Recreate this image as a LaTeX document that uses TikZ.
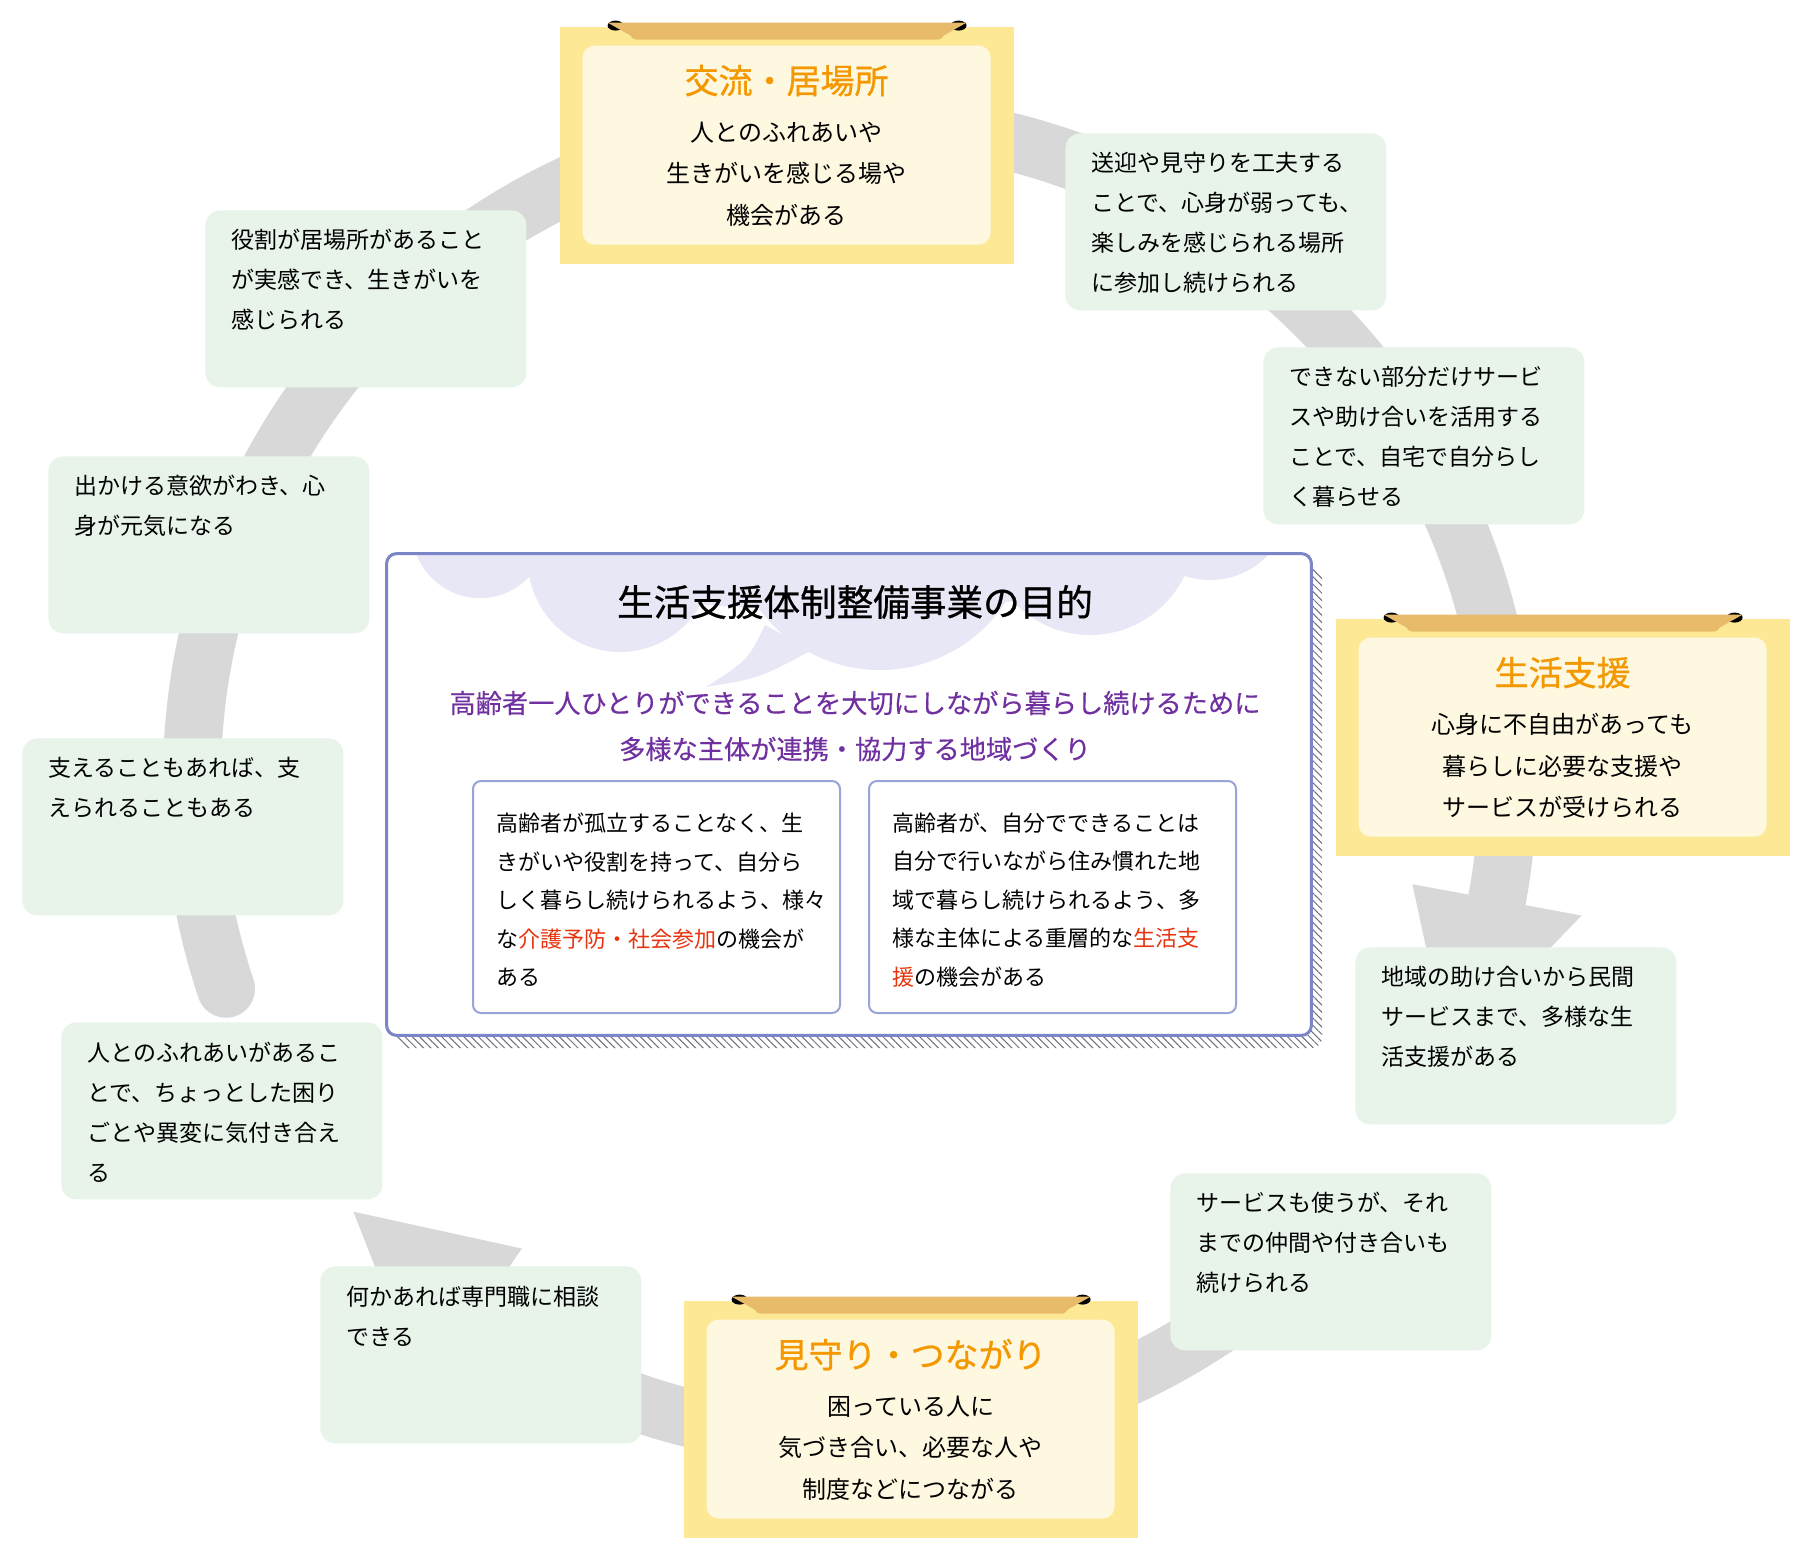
\documentclass[tikz,border=0pt]{standalone}
\usepackage{fontspec}
\setmainfont{Noto Sans CJK JP}
\newfontfamily\medfont{Noto Sans CJK JP}[FakeBold=0.8]
\newfontfamily\semifont{Noto Sans CJK JP}[FakeBold=0.35]
\usetikzlibrary{patterns.meta}
\definecolor{ringc}{HTML}{D8D8D8}
\definecolor{yelO}{HTML}{FDE995}
\definecolor{creamI}{HTML}{FEF8E1}
\definecolor{tabc}{HTML}{E7BB6A}
\definecolor{greenF}{HTML}{E8F4EA}
\definecolor{orangeT}{HTML}{F39800}
\definecolor{purpleT}{HTML}{7030A0}
\definecolor{redT}{HTML}{E8340E}
\definecolor{frameB}{HTML}{7A86C8}
\definecolor{frameS}{HTML}{9AA4D8}
\definecolor{cloudc}{HTML}{E7E7F5}
\definecolor{hatchc}{HTML}{6E6E7E}

\newcommand\mainbox[5]{%
  \node[mainouter] (#1) at (#2,#3) {};
  \begin{scope}[shift={(#1.north west)}]
    \fill[black] (56,-1) ellipse[x radius=4pt, y radius=2.5pt];
    \fill[black] (399,-1) ellipse[x radius=4pt, y radius=2.5pt];
    \fill[tabc] (48,-4) -- (407,-4) -- (384,9) .. controls (381,13) .. (375,13) -- (80,13) .. controls (74,13) .. (71,9) -- cycle;
    \node[maininner] (#1-in) at (227,118.5) {};
    \node[maintitle] (#1-title) at (227,54) {#4};
    \node[mainbody] (#1-body) at (227,147.5) {#5};
  \end{scope}}

\newcommand\greenbox[5]{%
  \node[gbox, anchor=north west] (#1) at (#2,#3) {};
  \node[gtext, anchor=west] (#1-text) at ([shift={(26,#4)}]#1.north west) {#5};}

\begin{document}
\begin{tikzpicture}[x=0.5pt,y=-0.5pt,
  mainouter/.style={fill=yelO, minimum width=227pt, minimum height=118.5pt, inner sep=0},
  maininner/.style={fill=creamI, rounded corners=6pt, minimum width=204pt, minimum height=99.5pt, inner sep=0},
  maintitle/.style={text=orangeT, font=\medfont\fontsize{17pt}{20pt}\selectfont, inner sep=0},
  mainbody/.style={align=center, font=\fontsize{12pt}{20.75pt}\selectfont, inner sep=0},
  gbox/.style={fill=greenF, rounded corners=7.5pt, minimum width=160.5pt, minimum height=88.5pt, inner sep=0},
  gtext/.style={align=left, font=\fontsize{11.5pt}{20pt}\selectfont, inner sep=0},
  stext/.style={align=left, font=\fontsize{11pt}{19.25pt}\selectfont, inner sep=0},
  sbox/.style={draw=frameS, line width=1pt, fill=white, rounded corners=4pt, minimum width=183.5pt, minimum height=116pt, inner sep=0},
  bigbox/.style={fill=white, minimum width=462pt, minimum height=240.5pt, rounded corners=5pt, inner sep=0},
  ringarc/.style={draw=ringc, line width=29pt, line cap=round}
]
\useasboundingbox (0,0) rectangle (1800,1551);
\fill[white] (0,0) rectangle (1800,1551);

% ring of arrows
\begin{scope}[shift={(850,780)}, x=0.5pt, y=0.5pt]
  \draw[ringarc] (198.5:658) arc[start angle=198.5, end angle=110, radius=658];
  \fill[ringc] (110:572) -- (110:744) -- (96:658) -- cycle;
  \draw[ringarc] (82:658) arc[start angle=82, end angle=-10.5, radius=658];
  \fill[ringc] (-10.5:572) -- (-10.5:744) -- (-24.5:658) -- cycle;
  \draw[ringarc] (-45:658) arc[start angle=-45, end angle=-125, radius=658];
  \fill[ringc] (-125:572) -- (-125:744) -- (-139:658) -- cycle;
\end{scope}

% central box
\fill[pattern={Lines[angle=-45,distance=2.6pt,line width=0.5pt]}, pattern color=hatchc, rounded corners=5pt] (397,567) rectangle (1322,1048);
\node[bigbox] (goal) at (849,794.5) {};
\begin{scope}
  \clip[rounded corners=5pt] (goal.north west) rectangle (goal.south east);
  \fill[cloudc] (480,530) circle[radius=34pt] (620,560) circle[radius=46pt]
    (880,520) circle[radius=75pt] (1090,530) circle[radius=52.5pt]
    (1210,500) circle[radius=40pt] (840,520) ellipse[x radius=200pt, y radius=45pt];
  \fill[cloudc] (765,625) .. controls (748,660) .. (706,687) .. controls (760,678) .. (812,650) -- cycle;
\end{scope}
\draw[frameB, line width=1.5pt, rounded corners=5pt] (goal.north west) rectangle (goal.south east);
\node[font=\medfont\fontsize{18.3pt}{22pt}\selectfont, inner sep=0] (goal-title) at (855,602) {生活支援体制整備事業の目的};
\node[align=center, text=purpleT, font=\semifont\fontsize{13.1pt}{23pt}\selectfont, inner sep=0] (goal-sub) at (855,726) {高齢者一人ひとりができることを大切にしながら暮らし続けるために\\多様な主体が連携・協力する地域づくり};
\node[sbox] (sl) at (656.5,897) {};
\node[sbox] (sr) at (1052.5,897) {};
\node[stext, anchor=west] (sl-text) at (496,900) {高齢者が孤立することなく、生\\きがいや役割を持って、自分ら\\しく暮らし続けられるよう、様々\\な\textcolor{redT}{介護予防・社会参加}の機会が\\ある};
\node[stext, anchor=west] (sr-text) at (892,900) {高齢者が、自分でできることは\\自分で行いながら住み慣れた地\\域で暮らし続けられるよう、多\\様な主体による重層的な\textcolor{redT}{生活支}\\\textcolor{redT}{援}の機会がある};

% main boxes
\mainbox{kouryu}{787}{145.5}{交流・居場所}{人とのふれあいや\\生きがいを感じる場や\\機会がある}
\mainbox{seikatsu}{1563}{737.5}{生活支援}{心身に不自由があっても\\暮らしに必要な支援や\\サービスが受けられる}
\mainbox{mimamori}{911}{1419.5}{見守り・つながり}{困っている人に\\気づき合い、必要な人や\\制度などにつながる}

% green boxes
\greenbox{yakuwari}{205}{210}{70}{役割が居場所があること\\が実感でき、生きがいを\\感じられる}
\greenbox{dekakeru}{48}{456}{50}{出かける意欲がわき、心\\身が元気になる}
\greenbox{sasaeru}{22}{738}{50}{支えることもあれば、支\\えられることもある}
\greenbox{fureai}{61}{1022}{90}{人とのふれあいがあるこ\\とで、ちょっとした困り\\ごとや異変に気付き合え\\る}
\greenbox{nanika}{320}{1266}{50}{何かあれば専門職に相談\\できる}
\greenbox{service}{1170}{1173}{70}{サービスも使うが、それ\\までの仲間や付き合いも\\続けられる}
\greenbox{chiiki}{1355}{947}{70}{地域の助け合いから民間\\サービスまで、多様な生\\活支援がある}
\greenbox{dekinai}{1263}{347}{90}{できない部分だけサービ\\スや助け合いを活用する\\ことで、自宅で自分らし\\く暮らせる}
\greenbox{geigei}{1065}{133}{90}{送迎や見守りを工夫する\\ことで、心身が弱っても、\\楽しみを感じられる場所\\に参加し続けられる}
\end{tikzpicture}
\end{document}
